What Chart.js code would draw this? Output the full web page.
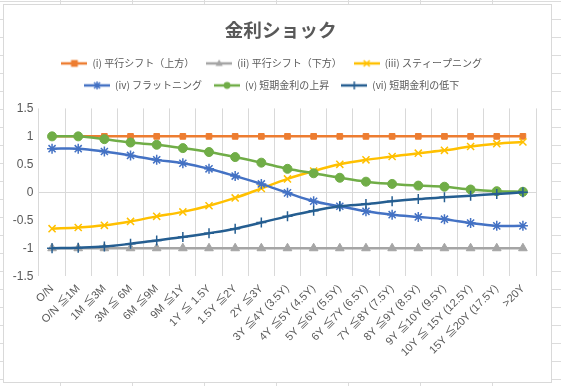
<!DOCTYPE html>
<html>
<head>
<meta charset="utf-8">
<script src="https://cdn.jsdelivr.net/npm/chart.js@4/dist/chart.umd.min.js"></script>
<style>
  html, body { margin:0; padding:0; }
  body {
    width:561px; height:386px; overflow:hidden; position:relative;
    background-color:#fff;
    background-image: linear-gradient(to right, #dcdcdc 1px, transparent 1px), linear-gradient(to bottom, #dcdcdc 1px, transparent 1px);
    background-size: 72px 18px, 72px 18px;
    background-position: 60px 0, 0 1px;
  }
  #box { position:absolute; left:3px; top:4px; width:547px; height:377px; border:1px solid #d9d9d9; background:#fff; }
  canvas { display:block; }
</style>
</head>
<body>
<div id="box"><canvas id="c" width="547" height="377"></canvas></div>
<script>
const categories = ['O/N','O/N ≦1M','1M ≦3M','3M ≦ 6M','6M ≦9M','9M ≦1Y','1Y ≦ 1.5Y','1.5Y ≦2Y','2Y ≦3Y','3Y ≦4Y (3.5Y)','4Y ≦5Y (4.5Y)','5Y ≦6Y (5.5Y)','6Y ≦7Y (6.5Y)','7Y ≦8Y (7.5Y)','8Y ≦9Y (8.5Y)','9Y ≦10Y (9.5Y)','10Y ≦ 15Y (12.5Y)','15Y ≦20Y (17.5Y)','>20Y'];
const parallelUp   = [1,1,1,1,1,1,1,1,1,1,1,1,1,1,1,1,1,1,1];
const parallelDown = [-1,-1,-1,-1,-1,-1,-1,-1,-1,-1,-1,-1,-1,-1,-1,-1,-1,-1,-1];
const steepening   = [-0.65,-0.63,-0.59,-0.52,-0.43,-0.35,-0.24,-0.1,0.07,0.24,0.38,0.5,0.58,0.64,0.7,0.75,0.82,0.87,0.9];
const flattening   = [0.78,0.78,0.73,0.66,0.58,0.52,0.42,0.29,0.15,-0.01,-0.16,-0.25,-0.34,-0.4,-0.44,-0.48,-0.55,-0.6,-0.6];
const shortRateUp  = [1,1,0.95,0.89,0.85,0.79,0.72,0.63,0.53,0.42,0.34,0.26,0.19,0.15,0.12,0.1,0.05,0.02,0.01];
const shortRateDown= [-1,-0.99,-0.97,-0.92,-0.86,-0.8,-0.73,-0.65,-0.54,-0.43,-0.33,-0.25,-0.21,-0.16,-0.12,-0.09,-0.06,-0.03,0];
const seriesNames  = ['(i) 平行シフト（上方）','(ii) 平行シフト（下方）','(iii) スティープニング','(iv) フラットニング','(v) 短期金利の上昇','(vi) 短期金利の低下'];
const yTickValues  = [-1.5,-1,-0.5,0,0.5,1,1.5];
const titleText    = '金利ショック';

const colors = ['#ED7D31','#A5A5A5','#FFC000','#4472C4','#70AD47','#255E91'];
const styles = ['rect','triangle','crossRot','star','circle','cross'];
const radii  = [4,5,5,5,4.5,5];
const values = [parallelUp, parallelDown, steepening, flattening, shortRateUp, shortRateDown];

function drawMarker(ctx, style, x, y, r, color) {
  ctx.fillStyle = color; ctx.strokeStyle = color; ctx.lineWidth = 1.5;
  ctx.beginPath();
  if (style === 'rect') { ctx.fillRect(x - r*0.85, y - r*0.85, r*1.7, r*1.7); return; }
  if (style === 'circle') { ctx.arc(x, y, r*0.85, 0, Math.PI*2); ctx.fill(); return; }
  if (style === 'triangle') { ctx.moveTo(x, y - r); ctx.lineTo(x + r*0.9, y + r*0.6); ctx.lineTo(x - r*0.9, y + r*0.6); ctx.closePath(); ctx.fill(); return; }
  const d = r*0.75;
  if (style === 'crossRot' || style === 'star') { ctx.moveTo(x-d,y-d); ctx.lineTo(x+d,y+d); ctx.moveTo(x+d,y-d); ctx.lineTo(x-d,y+d); }
  if (style === 'cross' || style === 'star') { ctx.moveTo(x,y-r); ctx.lineTo(x,y+r); }
  if (style === 'cross') { ctx.moveTo(x-r,y); ctx.lineTo(x+r,y); }
  ctx.stroke();
}
function makeIcon(i) {
  const cv = document.createElement('canvas'); cv.width = 26; cv.height = 12;
  const ctx = cv.getContext('2d');
  ctx.strokeStyle = colors[i]; ctx.lineWidth = 2.5;
  ctx.beginPath(); ctx.moveTo(0, 6); ctx.lineTo(26, 6); ctx.stroke();
  drawMarker(ctx, styles[i], 13, 6, 4, colors[i]);
  return cv;
}
const icons = colors.map((c, i) => makeIcon(i));

const datasets = values.map((v, i) => ({
  label: seriesNames[i],
  data: v,
  borderColor: colors[i],
  backgroundColor: colors[i],
  borderWidth: 2.5,
  pointStyle: styles[i],
  pointRadius: radii[i],
  pointBorderWidth: (styles[i]==='crossRot'||styles[i]==='star'||styles[i]==='cross') ? 1.5 : 1,
  pointBackgroundColor: colors[i],
  pointBorderColor: colors[i],
  tension: 0.35,
  fill: false,
  order: values.length - i
}));

Chart.defaults.font.family = '"Liberation Sans", "Noto Sans CJK JP", sans-serif';
Chart.defaults.color = '#595959';

const layoutTweaks = {
  id: 'layoutTweaks',
  beforeInit(chart) {
    const orig = chart.legend.fit;
    chart.legend.fit = function () { orig.call(this); this.height += 8; };
  },
  afterLayout(chart) {
    const t = chart.titleBlock;
    if (t) { t.left += 9; t.right += 9; }
  }
};

new Chart(document.getElementById('c'), {
  type: 'line',
  data: { labels: categories, datasets },
  plugins: [layoutTweaks],
  options: {
    responsive: false,
    animation: false,
    layout: { autoPadding: false, padding: { left: 3.3, right: 15, top: 0, bottom: 17 } },
    plugins: {
      tooltip: { enabled: false },
      title: {
        display: true, text: titleText, color: '#595959',
        font: { size: 18.67, weight: 'bold', family: '"Noto Sans CJK JP", sans-serif' },
        padding: { top: 14, bottom: 5 }
      },
      legend: {
        position: 'top',
        labels: {
          color: '#595959',
          font: { size: 10, family: '"Noto Sans CJK JP", "Liberation Sans", sans-serif' },
          usePointStyle: true,
          pointStyleWidth: 26,
          boxHeight: 12,
          padding: 12,
          generateLabels(chart) {
            return chart.data.datasets.map((ds, i) => ({
              text: ds.label, datasetIndex: i, pointStyle: icons[i],
              fillStyle: colors[i], strokeStyle: colors[i], lineWidth: 0, hidden: false, fontColor: '#595959'
            }));
          }
        }
      }
    },
    scales: {
      x: {
        offset: true,
        grid: { offset: true, color: '#d9d9d9', drawTicks: false, tickLength: 0 },
        border: { display: false },
        afterFit(scale) { scale.paddingLeft = 0; scale.paddingRight = 0; },
        ticks: { maxRotation: 45, minRotation: 45, autoSkip: false, padding: 6, font: { size: 11 }, color: '#595959' }
      },
      y: {
        min: -1.5, max: 1.5,
        afterBuildTicks(axis) { axis.ticks = yTickValues.map(v => ({ value: v })); },
        grid: { drawTicks: false, tickLength: 0, color: ctx => (ctx.tick && ctx.tick.value === 0) ? '#d9d9d9' : 'rgba(0,0,0,0)' },
        border: { display: false },
        ticks: { padding: 5.5, font: { size: 12 }, color: '#595959', callback: v => String(v) }
      }
    }
  }
});
</script>
</body>
</html>
